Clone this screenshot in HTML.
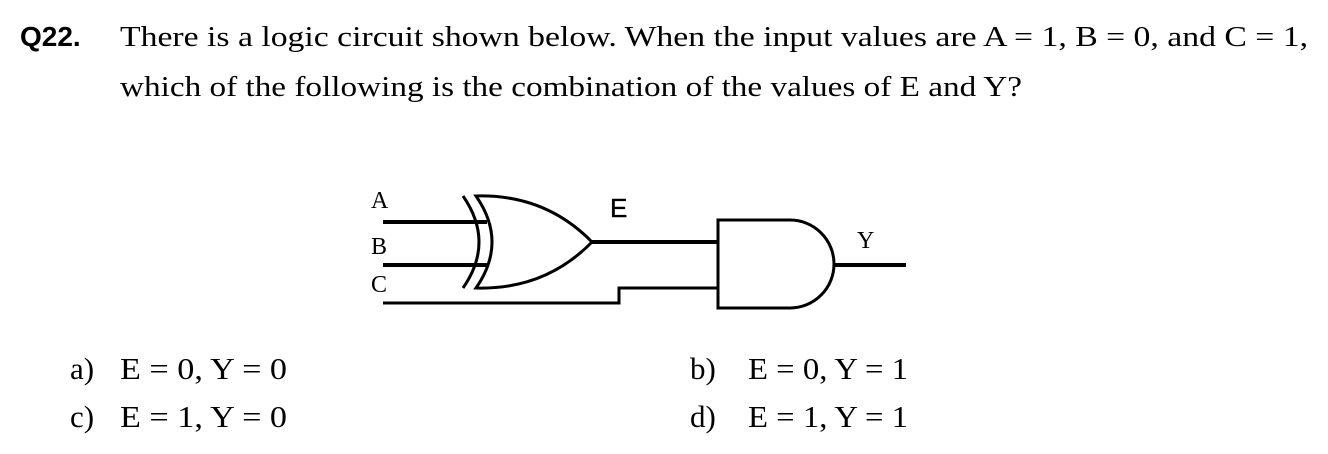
<!DOCTYPE html>
<html><head><meta charset="utf-8"><style>
html,body{margin:0;padding:0;background:#fff;width:1328px;height:454px;overflow:hidden}
svg{display:block}
.s{font-family:"Liberation Serif",serif;font-size:29px;fill:#000}
.o{font-family:"Liberation Serif",serif;font-size:31px;fill:#000}
.b{font-family:"Liberation Sans",sans-serif;font-weight:bold;font-size:28px;fill:#000}
</style></head><body>
<svg width="1328" height="454" viewBox="0 0 1328 454" xmlns="http://www.w3.org/2000/svg">
<text class="b" x="20" y="46">Q22.</text>
<text class="s" x="120" y="46" textLength="1188" lengthAdjust="spacingAndGlyphs">There is a logic circuit shown below. When the input values are A = 1, B = 0, and C = 1,</text>
<text class="s" x="120" y="96" textLength="902" lengthAdjust="spacingAndGlyphs">which of the following is the combination of the values of E and Y?</text>

<g fill="none" stroke="#000" stroke-linecap="butt">
<line x1="383" y1="222" x2="487" y2="222" stroke-width="4"/>
<line x1="383" y1="265" x2="487" y2="265" stroke-width="4"/>
<path d="M463 196 Q495 242 463 288" stroke-width="3"/>
<path d="M476 196 Q508 242 476 288 Q545 290 592 242 Q545 194 476 196 Z" stroke-width="3"/>
<line x1="592" y1="242" x2="718" y2="242" stroke-width="4"/>
<path d="M383 303 H619 V288 H718" stroke-width="3"/>
<path d="M718 220 H790 A44 44 0 0 1 790 308 H718 Z" stroke-width="3"/>
<line x1="834" y1="265" x2="906" y2="265" stroke-width="4"/>
</g>
<text class="s" x="371" y="208" style="font-size:24px">A</text>
<text class="s" x="371" y="254" style="font-size:24px">B</text>
<text class="s" x="371" y="292" style="font-size:24px">C</text>
<text x="610" y="217" style="font-family:'Liberation Sans',sans-serif;font-size:26px;stroke:#000;stroke-width:0.4">E</text>
<text class="s" x="857" y="248" style="font-size:24px">Y</text>

<text class="o" x="70" y="379">a)</text>
<text class="o" x="120" y="379" textLength="167" lengthAdjust="spacingAndGlyphs">E = 0, Y = 0</text>
<text class="o" x="70" y="427">c)</text>
<text class="o" x="120" y="427" textLength="167" lengthAdjust="spacingAndGlyphs">E = 1, Y = 0</text>
<text class="o" x="690" y="379">b)</text>
<text class="o" x="748" y="379" textLength="160" lengthAdjust="spacingAndGlyphs">E = 0, Y = 1</text>
<text class="o" x="690" y="427">d)</text>
<text class="o" x="748" y="427" textLength="160" lengthAdjust="spacingAndGlyphs">E = 1, Y = 1</text>
</svg>
</body></html>
